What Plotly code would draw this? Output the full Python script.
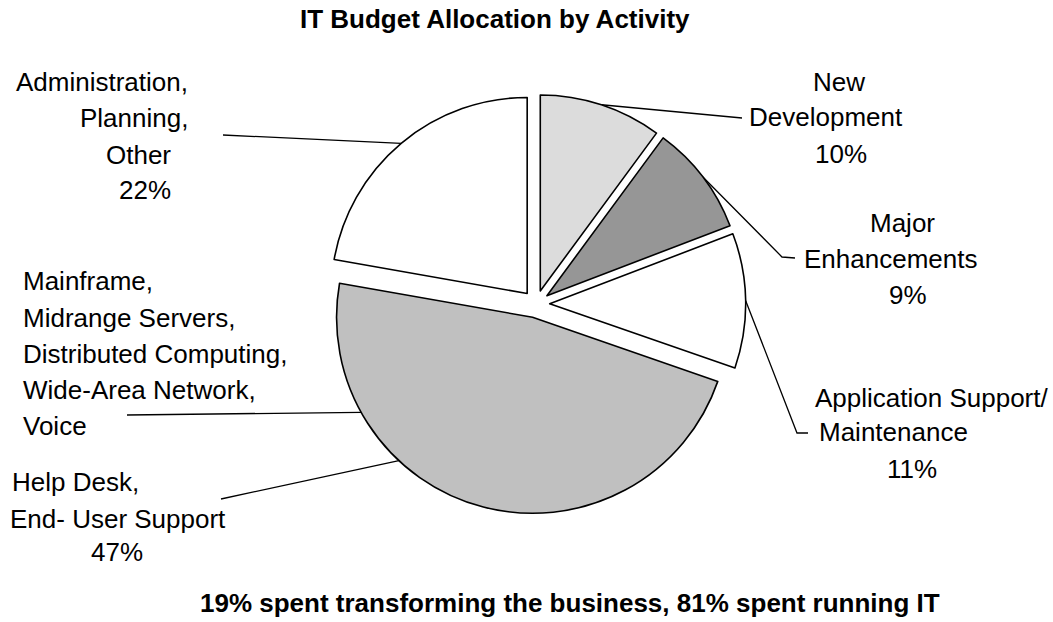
import math
import plotly.graph_objects as go

# ---- data ---------------------------------------------------------------
categories = [
    "New Development",
    "Major Enhancements",
    "Application Support/Maintenance",
    "Mainframe, Midrange Servers, Distributed Computing, Wide-Area Network, Voice, Help Desk, End-User Support",
    "Administration, Planning, Other",
]
shares = [10, 9, 11, 47, 22]
label_lines = [
    ["New", "Development"],
    ["Major", "Enhancements"],
    ["Application Support/", "Maintenance"],
    ["Mainframe,", "Midrange Servers,", "Distributed Computing,",
     "Wide-Area Network,", "Voice", "Help Desk,", "End- User Support"],
    ["Administration,", "Planning,", "Other"],
]
slice_colors = ["#dcdcdc", "#969696", "#ffffff", "#c0c0c0", "#ffffff"]
title_text = "IT Budget Allocation by Activity"
footer_text = "19% spent transforming the business, 81% spent running IT"

# ---- geometry (pixels) --------------------------------------------------
W, H = 1053, 622
CX, CY = 536, 304          # pie centre
R = 196                    # pie radius
PULL = 0.07                # explode fraction
half = R * (1 + PULL)

FONT = "Liberation Sans, Arial, Helvetica, sans-serif"
FS = 26

# one entry per text line (labels followed by the percentage line)
line_pos = [
    [(839, 82, "center"), (747, 117, "left"), (841, 154, "center")],
    [(902, 223, "center"), (802, 259, "left"), (908, 295, "center")],
    [(813, 398, "left"), (817, 432, "left"), (912, 469, "center")],
    [(21, 281, "left"), (21, 318, "left"), (21, 354, "left"), (21, 390, "left"),
     (21, 426, "left"), (10, 482, "left"), (8, 519, "left"), (117, 552, "center")],
    [(190, 82, "right"), (190, 118, "right"), (173, 155, "right"), (173, 190, "right")],
]

# leader lines: (angle on slice rim in degrees or None for mid-angle, bend points)
leaders = [
    [(None, [(742, 118)])],
    [(None, [(782, 257), (795, 258)])],
    [(None, [(797, 433), (808, 433)])],
    [(241, [(127, 415)]), (223, [(221, 499)])],
    [(None, [(223, 135)])],
]

total = sum(shares)
starts, spans = [], []
acc = 0.0
for v in shares:
    starts.append(acc)
    spans.append(360.0 * v / total)
    acc += 360.0 * v / total


def rim_point(i, ang_deg):
    mid = math.radians(starts[i] + spans[i] / 2)
    ox = CX + PULL * R * math.sin(mid)
    oy = CY - PULL * R * math.cos(mid)
    a = math.radians(ang_deg)
    return ox + R * math.sin(a), oy - R * math.cos(a)


fig = go.Figure()

fig.add_trace(go.Pie(
    labels=categories,
    values=shares,
    sort=False,
    direction="clockwise",
    rotation=0,
    pull=[PULL] * len(shares),
    marker=dict(colors=slice_colors, line=dict(color="#000000", width=1.6)),
    textinfo="none",
    hoverinfo="label+percent",
    showlegend=False,
    domain=dict(
        x=[(CX - half) / W, (CX + half) / W],
        y=[1 - (CY + half) / H, 1 - (CY - half) / H],
    ),
))

# leader lines
lx, ly = [], []
for i, group in enumerate(leaders):
    for ang, pts in group:
        if ang is None:
            ang = starts[i] + spans[i] / 2
        x0, y0 = rim_point(i, ang)
        lx.append(x0)
        ly.append(y0)
        for px, py in pts:
            lx.append(px)
            ly.append(py)
        lx.append(None)
        ly.append(None)

fig.add_trace(go.Scatter(
    x=lx, y=ly, mode="lines",
    line=dict(color="#000000", width=1.3),
    hoverinfo="skip", showlegend=False,
))

annotations = []
for i, lines in enumerate(label_lines):
    texts = lines + [f"{shares[i]}%"]
    for t, (x, y, anchor) in zip(texts, line_pos[i]):
        annotations.append(dict(
            x=x, y=y, xref="x", yref="y", text=t, showarrow=False,
            xanchor=anchor, yanchor="middle",
            font=dict(family=FONT, size=FS, color="#000000"),
        ))

annotations.append(dict(
    x=298, y=19, xref="x", yref="y", text=f"<b>{title_text}</b>",
    showarrow=False, xanchor="left", yanchor="middle",
    font=dict(family=FONT, size=FS, color="#000000"),
))
annotations.append(dict(
    x=198, y=603, xref="x", yref="y", text=f"<b>{footer_text}</b>",
    showarrow=False, xanchor="left", yanchor="middle",
    font=dict(family=FONT, size=FS, color="#000000"),
))

fig.update_layout(
    width=W, height=H, autosize=False,
    margin=dict(l=0, r=0, t=0, b=0),
    paper_bgcolor="#ffffff", plot_bgcolor="rgba(0,0,0,0)",
    xaxis=dict(range=[0, W], visible=False, fixedrange=True, domain=[0, 1]),
    yaxis=dict(range=[H, 0], visible=False, fixedrange=True, domain=[0, 1]),
    annotations=annotations,
)

fig.write_html("out.html", config={"displayModeBar": False})
